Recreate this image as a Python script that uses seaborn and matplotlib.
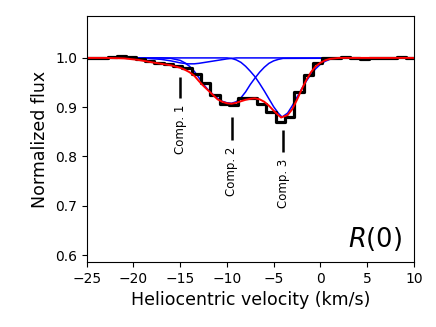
import numpy as np
import pandas as pd
import matplotlib
matplotlib.use("Agg")
import matplotlib.pyplot as plt
import seaborn as sns

# ---- observed spectrum (bin centres, km/s) ----
obs_vel = [-25.28, -24.28, -23.28, -22.28, -21.28, -20.28, -19.28, -18.28, -17.28,
           -16.28, -15.28, -14.28, -13.28, -12.28, -11.28, -10.28, -9.28, -8.28,
           -7.28, -6.28, -5.28, -4.28, -3.28, -2.28, -1.28, -0.28, 0.72, 1.72,
           2.72, 3.72, 4.72, 5.72, 6.72, 7.72, 8.72, 9.72, 10.72]
obs_flux = [1.000, 0.999, 1.000, 1.002, 1.003, 1.001, 0.997, 0.993, 0.990,
            0.987, 0.984, 0.979, 0.967, 0.950, 0.925, 0.906, 0.905, 0.918,
            0.918, 0.907, 0.891, 0.870, 0.880, 0.930, 0.965, 0.990, 0.999, 1.000,
            1.001, 0.999, 0.998, 0.999, 1.000, 1.000, 1.001, 1.000, 1.000]

# ---- total model (red) ----
mod_vel = [-25, -23, -21, -19.5, -18, -17, -16, -15, -14.5, -14, -13.5, -13, -12.5,
           -12, -11.5, -11, -10.5, -10, -9.5, -9, -8.5, -8, -7.5, -7, -6.5, -6,
           -5.5, -5, -4.5, -4.2, -3.5, -3, -2.5, -2, -1.5, -1, -0.5, 0, 0.5, 1,
           2, 3, 5, 10]
mod_flux = [1.000, 1.000, 0.999, 0.996, 0.991, 0.988, 0.985, 0.980, 0.976, 0.971,
            0.964, 0.953, 0.943, 0.934, 0.925, 0.916, 0.911, 0.908, 0.907, 0.909,
            0.912, 0.915, 0.917, 0.918, 0.916, 0.911, 0.903, 0.893, 0.884, 0.879,
            0.884, 0.896, 0.915, 0.936, 0.955, 0.971, 0.983, 0.990, 0.995, 0.998,
            1.000, 1.000, 1.000, 1.000]

# ---- individual components (blue) ----
c1_vel = [-25, -20, -18.5, -17, -16, -15, -14.2, -13.5, -13, -12, -11, -10, -9, -5, 10]
c1_flux = [1.000, 1.000, 0.999, 0.997, 0.994, 0.990, 0.988, 0.988, 0.989, 0.992,
           0.995, 0.998, 1.000, 1.000, 1.000]

c2_vel = [-25, -17, -16, -15, -14.5, -14, -13.5, -13, -12.5, -12, -11.5, -11, -10.5,
          -10, -9.5, -9, -8.5, -8, -7.5, -7, -6.5, -6, -5.5, -5, -4.5, -4, 10]
c2_flux = [1.000, 1.000, 0.999, 0.995, 0.990, 0.983, 0.973, 0.960, 0.946, 0.935,
           0.926, 0.918, 0.912, 0.909, 0.908, 0.911, 0.919, 0.931, 0.946, 0.959,
           0.971, 0.981, 0.989, 0.994, 0.997, 0.999, 1.000]

c3_vel = [-25, -10, -9.5, -9, -8.5, -8, -7.5, -7, -6.5, -6, -5.5, -5, -4.5, -4.1,
          -3.5, -3, -2.5, -2, -1.5, -1, -0.5, 0, 0.5, 1, 1.5, 2, 10]
c3_flux = [1.000, 1.000, 0.999, 0.996, 0.991, 0.983, 0.973, 0.962, 0.948, 0.933,
           0.917, 0.901, 0.888, 0.880, 0.888, 0.903, 0.920, 0.937, 0.953, 0.967,
           0.978, 0.987, 0.993, 0.997, 0.999, 1.000, 1.000]

# ---- component markers ----
comp_labels = ["Comp. 1", "Comp. 2", "Comp. 3"]
comp_vel = [-15.0, -9.5, -3.95]
comp_line_top = [0.961, 0.880, 0.854]
comp_line_bot = [0.919, 0.834, 0.810]
comp_text_top = [0.906, 0.820, 0.796]

sns.set_style("ticks", rc={
    "axes.edgecolor": "black", "xtick.color": "black", "ytick.color": "black",
    "text.color": "black", "axes.labelcolor": "black",
})
plt.rcParams["font.family"] = ["DejaVu Sans"]
plt.rcParams["xtick.major.size"] = 3.5
plt.rcParams["ytick.major.size"] = 3.5
plt.rcParams["axes.linewidth"] = 0.8

fig = plt.figure(figsize=(4.36, 3.27), dpi=100)
ax = fig.add_axes([0.199, 0.199, 0.750, 0.752])

for v, f in [(c1_vel, c1_flux), (c2_vel, c2_flux), (c3_vel, c3_flux)]:
    sns.lineplot(x=v, y=f, ax=ax, color="blue", lw=1.1, estimator=None, sort=False)

sns.lineplot(x=obs_vel, y=obs_flux, ax=ax, color="black", lw=2.3,
             drawstyle="steps-mid", estimator=None, sort=False)
sns.lineplot(x=mod_vel, y=mod_flux, ax=ax, color="red", lw=1.4,
             estimator=None, sort=False)

ax.vlines(comp_vel, comp_line_bot, comp_line_top, color="black", lw=1.8)
for lab, v, t in zip(comp_labels, comp_vel, comp_text_top):
    ax.text(v, t, lab, rotation=90, ha="center", va="top", fontsize=8.5)

ax.text(0.963, 0.035, r"$R(0)$", transform=ax.transAxes, ha="right", va="bottom",
        fontsize=18.5)

ax.set_xlim(-25, 10)
ax.set_ylim(0.586, 1.085)
ax.set_xticks([-25, -20, -15, -10, -5, 0, 5, 10])
ax.set_yticks([0.6, 0.7, 0.8, 0.9, 1.0])
ax.tick_params(labelsize=10)
ax.set_xlabel("Heliocentric velocity (km/s)", fontsize=12.5)
ax.set_ylabel("Normalized flux", fontsize=12.5)

fig.savefig("out.png", dpi=100)
